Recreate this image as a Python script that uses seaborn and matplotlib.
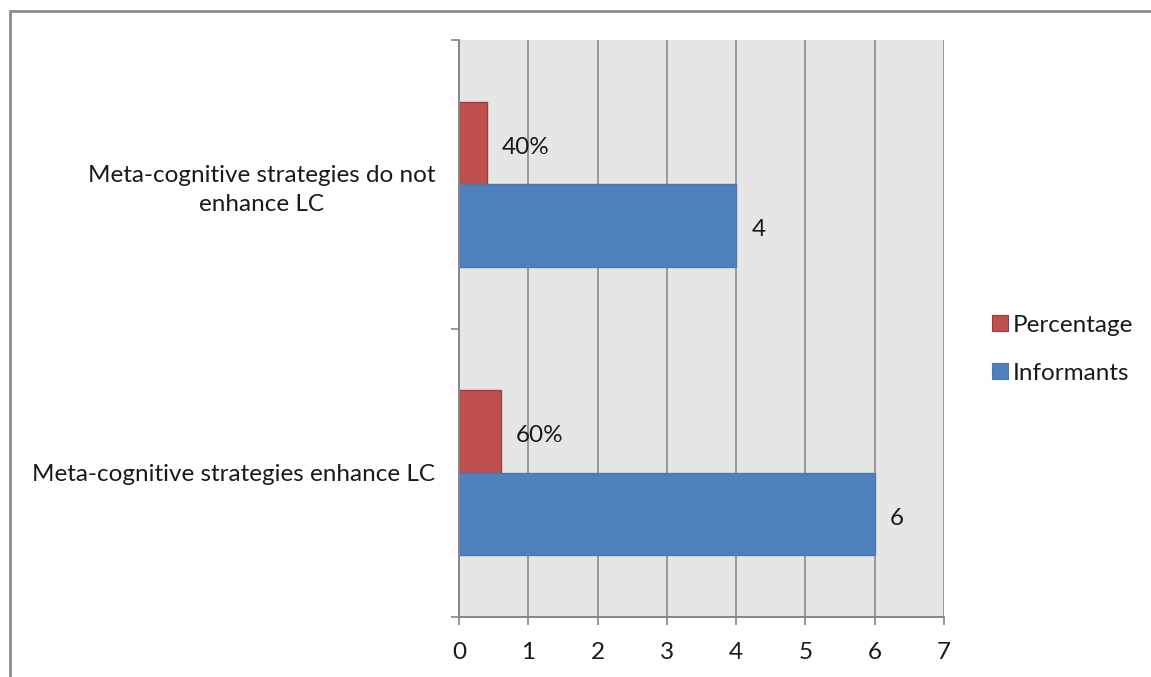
import matplotlib
matplotlib.use("Agg")
import matplotlib.pyplot as plt
from matplotlib.lines import Line2D
import seaborn as sns
import pandas as pd

# Chart data
categories = [
    "Meta-cognitive strategies do not enhance LC",
    "Meta-cognitive strategies enhance LC",
]
tick_labels = [
    "Meta-cognitive strategies do not\nenhance LC",
    "Meta-cognitive strategies enhance LC",
]
series = ["Percentage", "Informants"]
percentage = [0.4, 0.6]
percentage_labels = ["40%", "60%"]
informants = [4, 6]
informant_labels = ["4", "6"]

rows = []
for cat, p, n in zip(categories, percentage, informants):
    rows.append({"category": cat, "series": "Percentage", "value": p})
    rows.append({"category": cat, "series": "Informants", "value": n})
df = pd.DataFrame(rows)

sns.set_theme(style="white")
plt.rcParams["font.family"] = ["Lato", "DejaVu Sans"]
FS = 17.5
TXT = "#1a1a1a"

fig = plt.figure(figsize=(11.51, 6.77), dpi=100)
ax = fig.add_axes([459 / 1151, 1 - 617 / 677, (944 - 459) / 1151, (617 - 40) / 677])
ax.set_facecolor("#e6e6e6")

palette = {"Percentage": "#c0504d", "Informants": "#4f81bd"}
edges = {"Percentage": "#9b3d3b", "Informants": "#4a7ab3"}

sns.barplot(
    data=df, y="category", x="value", hue="series",
    order=categories, hue_order=series, palette=palette,
    orient="h", width=0.573, gap=0, saturation=1, ax=ax, legend=False,
    zorder=3,
)

# bar outlines per series
for container, name in zip(ax.containers, series):
    for bar in container:
        bar.set_edgecolor(edges[name])
        bar.set_linewidth(1.0)

# value labels, nudged slightly below the bar centre line
for container, labels in zip(ax.containers, [percentage_labels, informant_labels]):
    texts = ax.bar_label(container, labels=labels, padding=11, fontsize=FS, color=TXT)
    for t in texts:
        t.set_y(-3)

ax.set_xlim(0, 7)
ax.set_ylim(1.5, -0.5)
ax.set_xticks(range(0, 8))
ax.set_xticklabels([str(i) for i in range(0, 8)], fontsize=FS, color=TXT)
ax.set_yticks([0, 1])
ax.set_yticklabels(tick_labels, fontsize=FS, color=TXT)
for t in ax.get_yticklabels():
    t.set_multialignment("center")
    t.set_linespacing(1.45)
ax.set_yticks([-0.5, 0.5, 1.5], minor=True)
ax.tick_params(axis="y", which="major", length=0, pad=17)
ax.tick_params(axis="y", which="minor", length=6, width=1.2, color="#868686", direction="out", left=True)
ax.tick_params(axis="x", which="major", length=6, width=1.2, color="#868686", direction="out", bottom=True, pad=12)
ax.set_xlabel("")
ax.set_ylabel("")

ax.grid(axis="x", color="#8c8c8c", linewidth=1.2, zorder=1)
ax.set_axisbelow(True)
for side in ["top", "right"]:
    ax.spines[side].set_visible(False)
for side in ["left", "bottom"]:
    ax.spines[side].set_color("#868686")
    ax.spines[side].set_linewidth(1.4)
    ax.spines[side].set_zorder(4)

# legend
handles = [
    Line2D([], [], marker="s", linestyle="none", markersize=12,
           markerfacecolor=palette[s], markeredgecolor=edges[s], markeredgewidth=0.8)
    for s in series
]
fig.legend(handles, series, loc="upper left", bbox_to_anchor=(968 / 1151, 1 - 293 / 677),
           frameon=False, fontsize=FS, labelspacing=1.1, handlelength=0.8,
           handletextpad=0.15, labelcolor=TXT)

# outer chart frame (top and left edges)
fig.add_artist(Line2D([10 / 1151, 1.0], [1 - 11 / 677, 1 - 11 / 677],
                      transform=fig.transFigure, color="#8c8c8c", linewidth=2.0))
fig.add_artist(Line2D([10 / 1151, 10 / 1151], [0.0, 1 - 11 / 677],
                      transform=fig.transFigure, color="#8c8c8c", linewidth=2.0))

fig.savefig("out.png", dpi=100, facecolor="white")
